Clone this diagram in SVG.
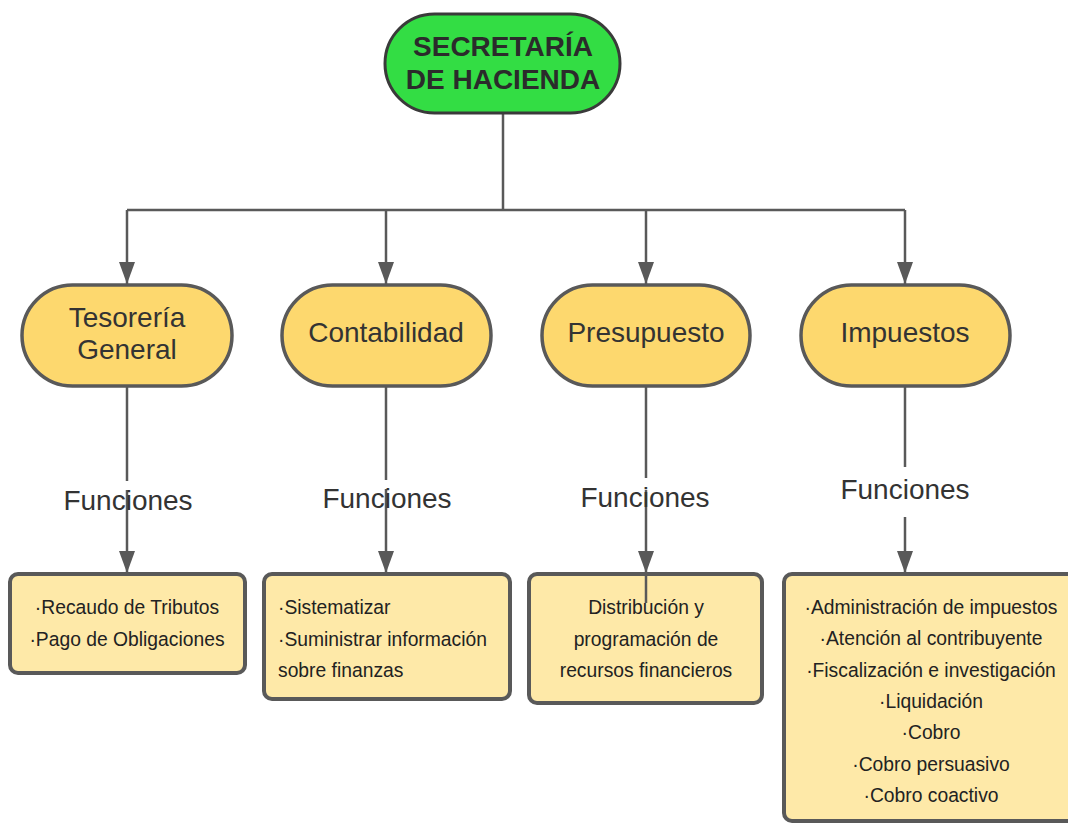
<svg xmlns="http://www.w3.org/2000/svg" width="1068" height="823" viewBox="0 0 1068 823">
<defs>
<style>
.pill{fill:#fdd86e;stroke:#595959;stroke-width:3.5}
.box{fill:#fee9a8;stroke:#595959;stroke-width:4}
.lbl{font-family:"Liberation Sans",Arial,sans-serif;font-size:28px;fill:#333;text-anchor:middle}
.fn{font-family:"Liberation Sans",Arial,sans-serif;font-size:28px;fill:#333;text-anchor:middle}
.txt{font-family:"Liberation Sans",Arial,sans-serif;font-size:19.3px;fill:#222;text-anchor:middle}
.txtl{font-family:"Liberation Sans",Arial,sans-serif;font-size:19.3px;fill:#222;text-anchor:start}
.ln{fill:none;stroke:#595959;stroke-width:2.5}
</style>
<marker id="down" viewBox="0 0 22 16" refX="22" refY="8" markerWidth="22" markerHeight="16" markerUnits="userSpaceOnUse" orient="auto">
<path d="M0,0 L22,8 L0,16 Z" fill="#595959"/>
</marker>
</defs>
<rect width="1068" height="823" fill="#ffffff"/>

<g id="connectors">
<path class="ln" d="M503,113 V210"/>
<path class="ln" d="M127,210 H905"/>
<path class="ln" d="M127,210 V284" marker-end="url(#down)"/>
<path class="ln" d="M386,210 V284" marker-end="url(#down)"/>
<path class="ln" d="M646,210 V284" marker-end="url(#down)"/>
<path class="ln" d="M905,210 V284" marker-end="url(#down)"/>
<path class="ln" d="M127,387 V481"/>
<path class="ln" d="M127,490 V573" marker-end="url(#down)"/>
<path class="ln" d="M386,387 V480"/>
<path class="ln" d="M386,489 V573" marker-end="url(#down)"/>
<path class="ln" d="M646,387 V478"/>
<path class="ln" d="M646,490 V573" marker-end="url(#down)"/>
<path class="ln" d="M905,387 V467"/>
<path class="ln" d="M905,517 V573" marker-end="url(#down)"/>
</g>

<g id="secretaria">
<rect x="385" y="14" width="235" height="99" rx="49.5" fill="#33dd44" stroke="#3a3a3a" stroke-width="3"/>
<text x="503" y="56" font-family="'Liberation Sans',Arial,sans-serif" font-size="28" font-weight="bold" fill="#2b2b2b" text-anchor="middle">SECRETARÍA</text>
<text x="503" y="89" font-family="'Liberation Sans',Arial,sans-serif" font-size="28" font-weight="bold" fill="#2b2b2b" text-anchor="middle">DE HACIENDA</text>
</g>

<g id="tesoreria">
<rect class="pill" x="22" y="285" width="210" height="101" rx="50.5"/>
<text class="lbl" x="127" y="327">Tesorería</text>
<text class="lbl" x="127" y="359">General</text>
</g>
<g id="contabilidad">
<rect class="pill" x="282" y="285" width="209" height="101" rx="50.5"/>
<text class="lbl" x="386" y="342">Contabilidad</text>
</g>
<g id="presupuesto">
<rect class="pill" x="542" y="285" width="208" height="101" rx="50.5"/>
<text class="lbl" x="646" y="342">Presupuesto</text>
</g>
<g id="impuestos">
<rect class="pill" x="801" y="285" width="209" height="101" rx="50.5"/>
<text class="lbl" x="905" y="342">Impuestos</text>
</g>

<g id="funciones-labels">
<text class="fn" x="128" y="510">Funciones</text>
<text class="fn" x="387" y="508">Funciones</text>
<text class="fn" x="645" y="507">Funciones</text>
<text class="fn" x="905" y="499">Funciones</text>
</g>

<g id="box-tesoreria">
<rect class="box" x="10" y="574" width="235" height="99" rx="8"/>
<text class="txt" x="127" y="614">·Recaudo de Tributos</text>
<text class="txt" x="127" y="646">·Pago de Obligaciones</text>
</g>
<g id="box-contabilidad">
<rect class="box" x="264" y="574" width="246" height="125" rx="8"/>
<text class="txtl" x="278" y="614">·Sistematizar</text>
<text class="txtl" x="278" y="646">·Suministrar información</text>
<text class="txtl" x="278" y="677">sobre finanzas</text>
</g>
<g id="box-presupuesto">
<rect class="box" x="529" y="574" width="233" height="129" rx="8"/>
<path class="ln" d="M646,574 V603"/>
<text class="txt" x="646" y="614">Distribución y</text>
<text class="txt" x="646" y="646">programación de</text>
<text class="txt" x="646" y="677">recursos financieros</text>
</g>
<g id="box-impuestos">
<rect class="box" x="784" y="574" width="300" height="247" rx="8"/>
<text class="txt" x="931" y="614">·Administración de impuestos</text>
<text class="txt" x="931" y="645">·Atención al contribuyente</text>
<text class="txt" x="931" y="677">·Fiscalización e investigación</text>
<text class="txt" x="931" y="708">·Liquidación</text>
<text class="txt" x="931" y="739">·Cobro</text>
<text class="txt" x="931" y="771">·Cobro persuasivo</text>
<text class="txt" x="931" y="802">·Cobro coactivo</text>
</g>
</svg>
